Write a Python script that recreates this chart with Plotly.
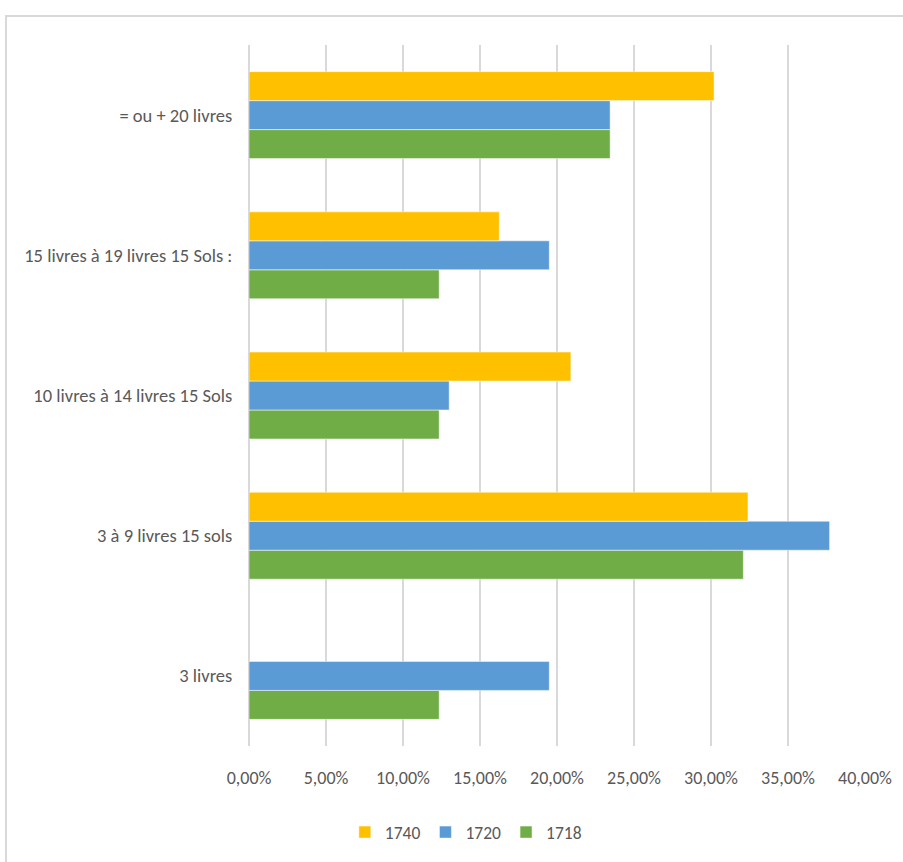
import plotly.graph_objects as go

categories = ["3 livres", "3 à 9 livres 15 sols", "10 livres à 14 livres 15 Sols",
              "15 livres à 19 livres 15 Sols :", "= ou + 20 livres"]
v1718 = [0.1235, 0.321, 0.1235, 0.1235, 0.2345]
v1720 = [0.195, 0.377, 0.130, 0.195, 0.2345]
v1740 = [None, 0.324, 0.209, 0.1625, 0.302]
tick_vals = [0, 0.05, 0.10, 0.15, 0.20, 0.25, 0.30, 0.35, 0.40]
tick_text = ["0,00%", "5,00%", "10,00%", "15,00%", "20,00%", "25,00%", "30,00%", "35,00%", "40,00%"]

FONT = "Liberation Sans Narrow, Carlito, Calibri, Lato, sans-serif"
TXT = "#595959"

fig = go.Figure()
fig.add_trace(go.Bar(y=categories, x=v1718, name="1718", orientation="h",
                     marker=dict(color="#70AD47", line=dict(color="#ffffff", width=0.5))))
fig.add_trace(go.Bar(y=categories, x=v1720, name="1720", orientation="h",
                     marker=dict(color="#5B9BD5", line=dict(color="#ffffff", width=0.5))))
fig.add_trace(go.Bar(y=categories, x=v1740, name="1740", orientation="h",
                     marker=dict(color="#FFC000", line=dict(color="#ffffff", width=0.5))))

fig.update_layout(
    width=903, height=862,
    margin=dict(l=249, r=38, t=45, b=116),
    paper_bgcolor="white", plot_bgcolor="white",
    barmode="group", bargap=0.38, bargroupgap=0,
    font=dict(family=FONT, size=18, color=TXT),
    showlegend=True,
    legend=dict(orientation="h", traceorder="reversed", x=0.352, xanchor="center",
                y=-0.123, yanchor="middle", font=dict(size=17.5, color=TXT),
                itemwidth=30, tracegroupgap=0),
    xaxis=dict(range=[0, 0.4], tickvals=tick_vals, ticktext=tick_text,
               showgrid=True, gridcolor="#d9d9d9", gridwidth=1.5,
               zeroline=True, zerolinecolor="#d9d9d9", zerolinewidth=1.5,
               showline=False, ticks="outside", ticklen=15, tickcolor="rgba(0,0,0,0)",
               tickfont=dict(size=18, color=TXT), fixedrange=True),
    yaxis=dict(categoryorder="array", categoryarray=categories,
               showgrid=False, zeroline=False, showline=False,
               ticks="outside", ticklen=12, tickcolor="rgba(0,0,0,0)",
               tickfont=dict(size=18.5, color=TXT), fixedrange=True),
    shapes=[dict(type="rect", xref="paper", yref="paper",
                 x0=(6 - 249) / 616, x1=1.2, y0=-0.3, y1=(746 - 16) / 701,
                 line=dict(color="#d9d9d9", width=2), fillcolor="rgba(0,0,0,0)", layer="below")],
)

fig.write_html("out.html", config={"displayModeBar": False},
               post_script="document.body.style.margin='0px';")
